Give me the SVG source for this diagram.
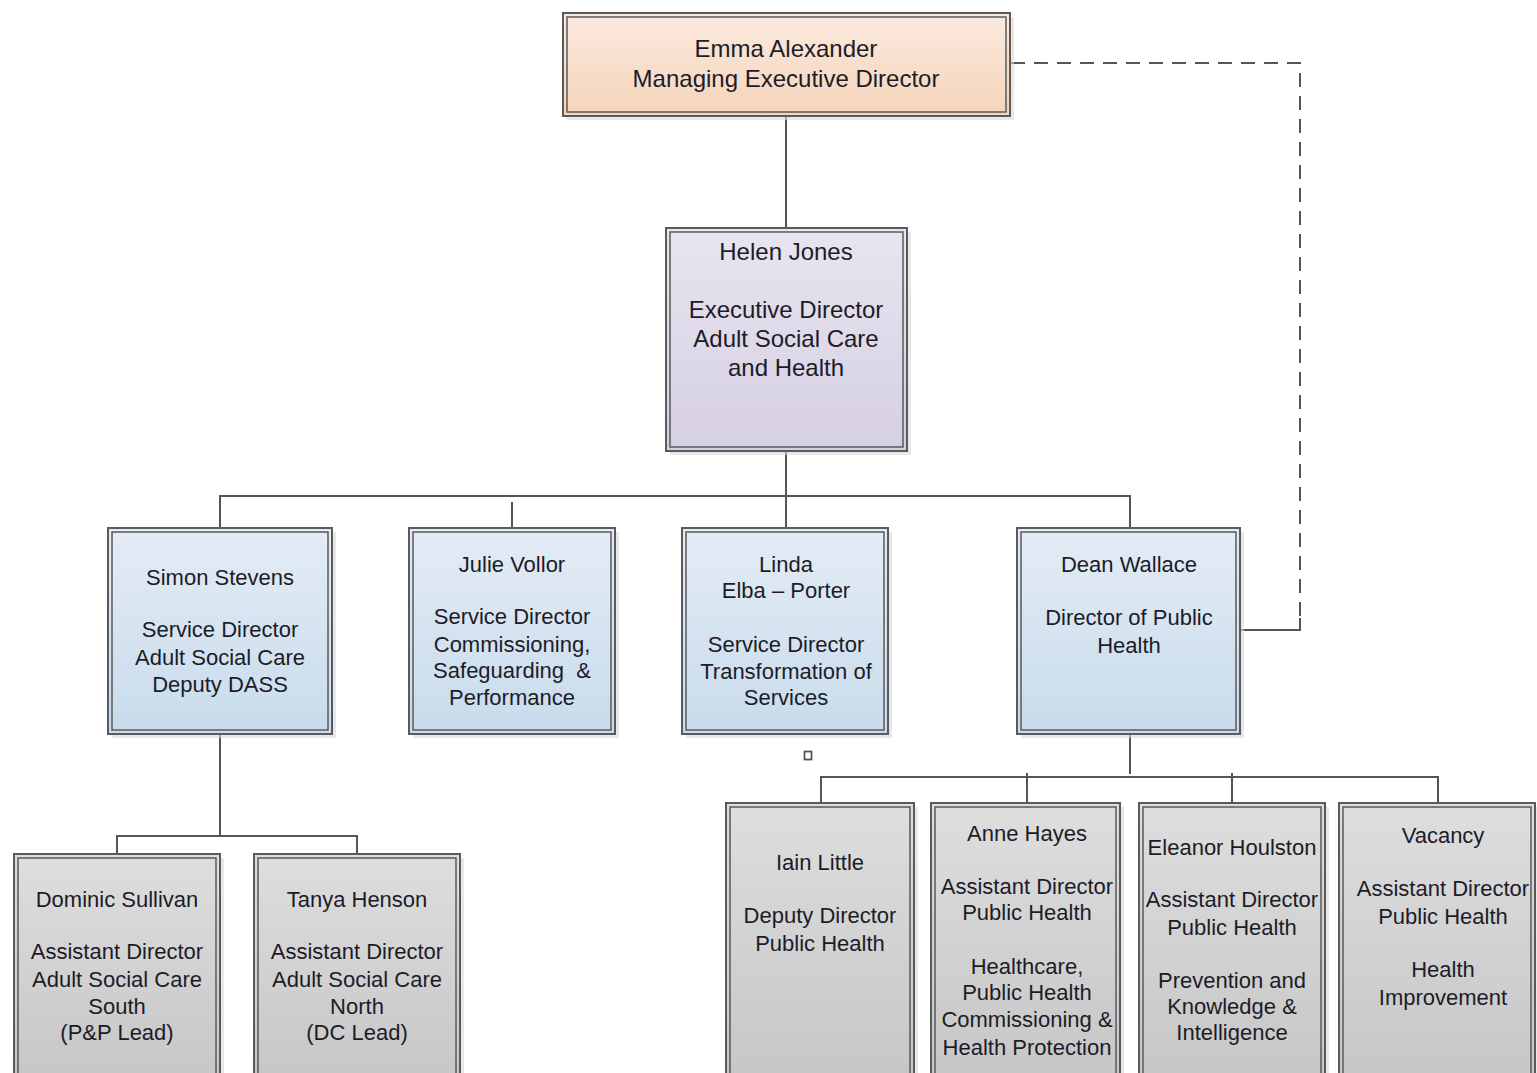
<svg xmlns="http://www.w3.org/2000/svg" width="1537" height="1073" viewBox="0 0 1537 1073">
<defs>
<linearGradient id="gOrange" x1="0" y1="0" x2="0" y2="1"><stop offset="0" stop-color="#fbeadf"/><stop offset="1" stop-color="#f5d4ba"/></linearGradient>
<linearGradient id="gPurple" x1="0" y1="0" x2="0" y2="1"><stop offset="0" stop-color="#e8e5f0"/><stop offset="1" stop-color="#d5cfe2"/></linearGradient>
<linearGradient id="gBlue" x1="0" y1="0" x2="0" y2="1"><stop offset="0" stop-color="#e4ecf5"/><stop offset="1" stop-color="#c8dbec"/></linearGradient>
<linearGradient id="gGray" x1="0" y1="0" x2="0" y2="1"><stop offset="0" stop-color="#dedede"/><stop offset="1" stop-color="#c6c6c6"/></linearGradient>
</defs>
<style>
.shadow{fill:#d8d8d8;opacity:0.6}
.outer{stroke:#5a5a5a;stroke-width:2}
.inner{fill:none;stroke:#5a5a5a;stroke-width:1.5}
.t{font-family:"Liberation Sans",Arial,sans-serif;font-size:22px;fill:#1c1c28;text-anchor:middle}
.big{font-size:24px}
.c{fill:none;stroke:#555;stroke-width:2}
.d{fill:none;stroke:#555;stroke-width:2;stroke-dasharray:14,9}
</style>
<rect width="1537" height="1073" fill="#ffffff"/>
<g id="connectors">
<line class="c" x1="786" y1="117" x2="786" y2="228"/>
<line class="c" x1="786" y1="451" x2="786" y2="496"/>
<polyline class="c" points="220,528 220,496 1130,496 1130,528"/>
<line class="c" x1="512" y1="502" x2="512" y2="528"/>
<line class="c" x1="786" y1="496" x2="786" y2="528"/>
<line class="c" x1="220" y1="734" x2="220" y2="836"/>
<polyline class="c" points="117,854 117,836 357,836 357,854"/>
<line class="c" x1="1130" y1="734" x2="1130" y2="774"/>
<polyline class="c" points="821,803 821,777 1438,777 1438,803"/>
<line class="c" x1="1027" y1="773" x2="1027" y2="803"/>
<line class="c" x1="1232" y1="773" x2="1232" y2="803"/>
<polyline class="d" points="1011,63 1300,63 1300,630"/>
<polyline class="c" points="1300,618 1300,630 1240,630"/>
<rect x="804.5" y="751.5" width="7" height="8" fill="#fff" stroke="#555" stroke-width="1.8"/>
</g>
<g id="emma">
<rect class="shadow" x="567" y="17" width="447" height="103"/>
<rect class="outer" x="563" y="13" width="447" height="103" fill="url(#gOrange)"/>
<rect class="inner" x="567" y="17" width="439" height="95"/>
<text class="t big"><tspan x="786" y="57">Emma Alexander</tspan><tspan x="786" y="87">Managing Executive Director</tspan></text>
</g>
<g id="helen">
<rect class="shadow" x="670" y="232" width="241" height="223"/>
<rect class="outer" x="666" y="228" width="241" height="223" fill="url(#gPurple)"/>
<rect class="inner" x="670" y="232" width="233" height="215"/>
<text class="t big"><tspan x="786" y="260">Helen Jones</tspan><tspan x="786" y="318">Executive Director</tspan><tspan x="786" y="347">Adult Social Care</tspan><tspan x="786" y="376">and Health</tspan></text>
</g>
<g id="simon">
<rect class="shadow" x="112" y="532" width="224" height="206"/>
<rect class="outer" x="108" y="528" width="224" height="206" fill="url(#gBlue)"/>
<rect class="inner" x="112" y="532" width="216" height="198"/>
<text class="t"><tspan x="220" y="585">Simon Stevens</tspan><tspan x="220" y="637">Service Director</tspan><tspan x="220" y="665">Adult Social Care</tspan><tspan x="220" y="692">Deputy DASS</tspan></text>
</g>
<g id="julie">
<rect class="shadow" x="413" y="532" width="206" height="206"/>
<rect class="outer" x="409" y="528" width="206" height="206" fill="url(#gBlue)"/>
<rect class="inner" x="413" y="532" width="198" height="198"/>
<text class="t"><tspan x="512" y="572">Julie Vollor</tspan><tspan x="512" y="624">Service Director</tspan><tspan x="512" y="652">Commissioning,</tspan><tspan x="512" y="678">Safeguarding&#160; &amp;</tspan><tspan x="512" y="705">Performance</tspan></text>
</g>
<g id="linda">
<rect class="shadow" x="686" y="532" width="206" height="206"/>
<rect class="outer" x="682" y="528" width="206" height="206" fill="url(#gBlue)"/>
<rect class="inner" x="686" y="532" width="198" height="198"/>
<text class="t"><tspan x="786" y="572">Linda</tspan><tspan x="786" y="598">Elba – Porter</tspan><tspan x="786" y="652">Service Director</tspan><tspan x="786" y="679">Transformation of</tspan><tspan x="786" y="705">Services</tspan></text>
</g>
<g id="dean">
<rect class="shadow" x="1021" y="532" width="223" height="206"/>
<rect class="outer" x="1017" y="528" width="223" height="206" fill="url(#gBlue)"/>
<rect class="inner" x="1021" y="532" width="215" height="198"/>
<text class="t"><tspan x="1129" y="572">Dean Wallace</tspan><tspan x="1129" y="625">Director of Public</tspan><tspan x="1129" y="653">Health</tspan></text>
</g>
<g id="dominic">
<rect class="shadow" x="18" y="858" width="206" height="230"/>
<rect class="outer" x="14" y="854" width="206" height="230" fill="url(#gGray)"/>
<rect class="inner" x="18" y="858" width="198" height="222"/>
<text class="t"><tspan x="117" y="907">Dominic Sullivan</tspan><tspan x="117" y="959">Assistant Director</tspan><tspan x="117" y="987">Adult Social Care</tspan><tspan x="117" y="1014">South</tspan><tspan x="117" y="1040">(P&amp;P Lead)</tspan></text>
</g>
<g id="tanya">
<rect class="shadow" x="258" y="858" width="206" height="230"/>
<rect class="outer" x="254" y="854" width="206" height="230" fill="url(#gGray)"/>
<rect class="inner" x="258" y="858" width="198" height="222"/>
<text class="t"><tspan x="357" y="907">Tanya Henson</tspan><tspan x="357" y="959">Assistant Director</tspan><tspan x="357" y="987">Adult Social Care</tspan><tspan x="357" y="1014">North</tspan><tspan x="357" y="1040">(DC Lead)</tspan></text>
</g>
<g id="iain">
<rect class="shadow" x="730" y="807" width="188" height="280"/>
<rect class="outer" x="726" y="803" width="188" height="280" fill="url(#gGray)"/>
<rect class="inner" x="730" y="807" width="180" height="272"/>
<text class="t"><tspan x="820" y="870">Iain Little</tspan><tspan x="820" y="923">Deputy Director</tspan><tspan x="820" y="951">Public Health</tspan></text>
</g>
<g id="anne">
<rect class="shadow" x="935" y="807" width="189" height="280"/>
<rect class="outer" x="931" y="803" width="189" height="280" fill="url(#gGray)"/>
<rect class="inner" x="935" y="807" width="181" height="272"/>
<text class="t"><tspan x="1027" y="841">Anne Hayes</tspan><tspan x="1027" y="894">Assistant Director</tspan><tspan x="1027" y="920">Public Health</tspan><tspan x="1027" y="974">Healthcare,</tspan><tspan x="1027" y="1000">Public Health</tspan><tspan x="1027" y="1027">Commissioning &amp;</tspan><tspan x="1027" y="1055">Health Protection</tspan></text>
</g>
<g id="eleanor">
<rect class="shadow" x="1143" y="807" width="186" height="280"/>
<rect class="outer" x="1139" y="803" width="186" height="280" fill="url(#gGray)"/>
<rect class="inner" x="1143" y="807" width="178" height="272"/>
<text class="t"><tspan x="1232" y="855">Eleanor Houlston</tspan><tspan x="1232" y="907">Assistant Director</tspan><tspan x="1232" y="935">Public Health</tspan><tspan x="1232" y="988">Prevention and</tspan><tspan x="1232" y="1014">Knowledge &amp;</tspan><tspan x="1232" y="1040">Intelligence</tspan></text>
</g>
<g id="vacancy">
<rect class="shadow" x="1343" y="807" width="194" height="280"/>
<rect class="outer" x="1339" y="803" width="196" height="280" fill="url(#gGray)"/>
<rect class="inner" x="1343" y="807" width="188" height="272"/>
<text class="t"><tspan x="1443" y="843">Vacancy</tspan><tspan x="1443" y="896">Assistant Director</tspan><tspan x="1443" y="924">Public Health</tspan><tspan x="1443" y="977">Health</tspan><tspan x="1443" y="1005">Improvement</tspan></text>
</g>
</svg>
